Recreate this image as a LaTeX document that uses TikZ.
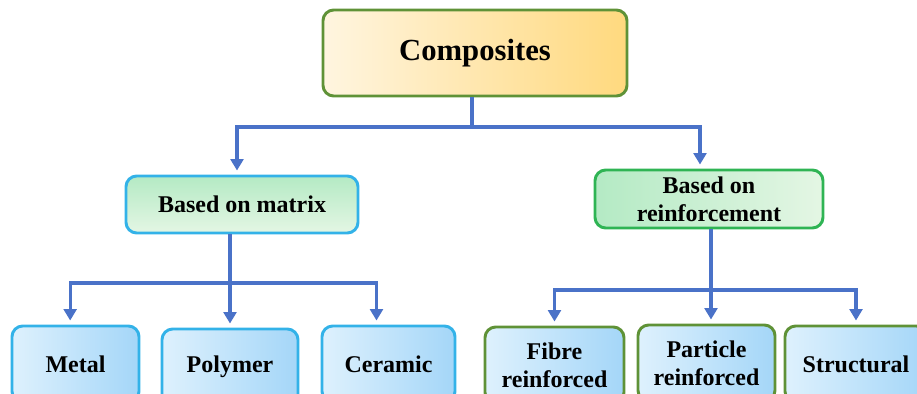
\documentclass[tikz,border=0pt]{standalone}
\usepackage{fontspec}
\setmainfont{Liberation Serif}
\usetikzlibrary{arrows.meta}
\definecolor{linkblue}{HTML}{4A72C8}
\definecolor{leafgreen}{HTML}{5F9237}
\definecolor{skyline}{HTML}{33B2E8}
\definecolor{midgreen}{HTML}{2FB454}
\definecolor{creamleft}{HTML}{FFF5E0}
\definecolor{creamright}{HTML}{FFD97E}
\definecolor{mintdark}{HTML}{B4EAC4}
\definecolor{mintlight}{HTML}{E4F6E4}
\definecolor{icelight}{HTML}{DEF1FD}
\definecolor{icedark}{HTML}{A4D6F8}
\tikzset{box/.style={draw, rounded corners=8pt, line width=2.2pt, align=center, inner sep=2pt}}
\tikzset{topbox/.style={box, draw=leafgreen, left color=creamleft, right color=creamright, font=\fontsize{23}{27}\selectfont\bfseries}}
\tikzset{midbox/.style={box, font=\fontsize{18}{21}\selectfont\bfseries}}
\tikzset{leafbox/.style={box, left color=icelight, right color=icedark, font=\fontsize{18}{21}\selectfont\bfseries, minimum height=57pt}}
\tikzset{link/.style={draw=linkblue, line width=2.5pt}}
\tikzset{arrowlink/.style={link, -{Triangle[length=8.5pt,width=9.5pt]}, shorten >=3pt}}

\begin{document}
\begin{tikzpicture}[x=0.75pt, y=-0.75pt]
\useasboundingbox (0,0) rectangle (917,393);
\clip (0,0) rectangle (917,393);
% top
\node (comp) [topbox, minimum width=228pt, minimum height=64.5pt] at (475,53) {Composites};
% second row
\node (mat) [midbox, draw=skyline, top color=mintdark, bottom color=mintlight, minimum width=174pt, minimum height=42.75pt] at (242,204.5) {Based on matrix};
\node (reinf) [midbox, draw=midgreen, left color=mintdark, right color=mintlight, minimum width=171pt, minimum height=43.5pt] at (709,199) {Based on\\reinforcement};
% bottom row
\node (metal) [leafbox, draw=skyline, minimum width=95.25pt] at (75.5,364) {Metal};
\node (poly) [leafbox, draw=skyline, minimum width=102pt] at (230,367) {Polymer};
\node (cera) [leafbox, draw=skyline, minimum width=99.75pt] at (388.5,364) {Ceramic};
\node (fibre) [leafbox, draw=leafgreen, minimum width=104.25pt] at (554.5,365) {Fibre\\reinforced};
\node (part) [leafbox, draw=leafgreen, minimum width=102.75pt] at (706.5,363) {Particle\\reinforced};
\node (struc) [leafbox, draw=leafgreen, minimum width=106.5pt] at (856,364) {Structural};

\coordinate (b0) at (472,127);
\coordinate (b1) at (230,283);
\coordinate (b2) at (711,290);

\draw[link] (comp.south -| b0) -- (b0);
\draw[arrowlink] (b0) -| ([xshift=-3.75pt]mat.north);
\draw[arrowlink] (b0) -| ([xshift=-6.75pt]reinf.north);

\draw[link] (mat.south -| b1) -- (b1);
\draw[arrowlink] (b1) -| ([xshift=-4pt]metal.north);
\draw[arrowlink] (b1) -- (poly.north -| b1);
\draw[arrowlink] (b1) -| ([xshift=-9pt]cera.north);

\draw[link] (reinf.south -| b2) -- (b2);
\draw[arrowlink] (b2) -| (fibre.north);
\draw[arrowlink] (b2) -- (part.north -| b2);
\draw[arrowlink] (b2) -| (struc.north);
\end{tikzpicture}
\end{document}
